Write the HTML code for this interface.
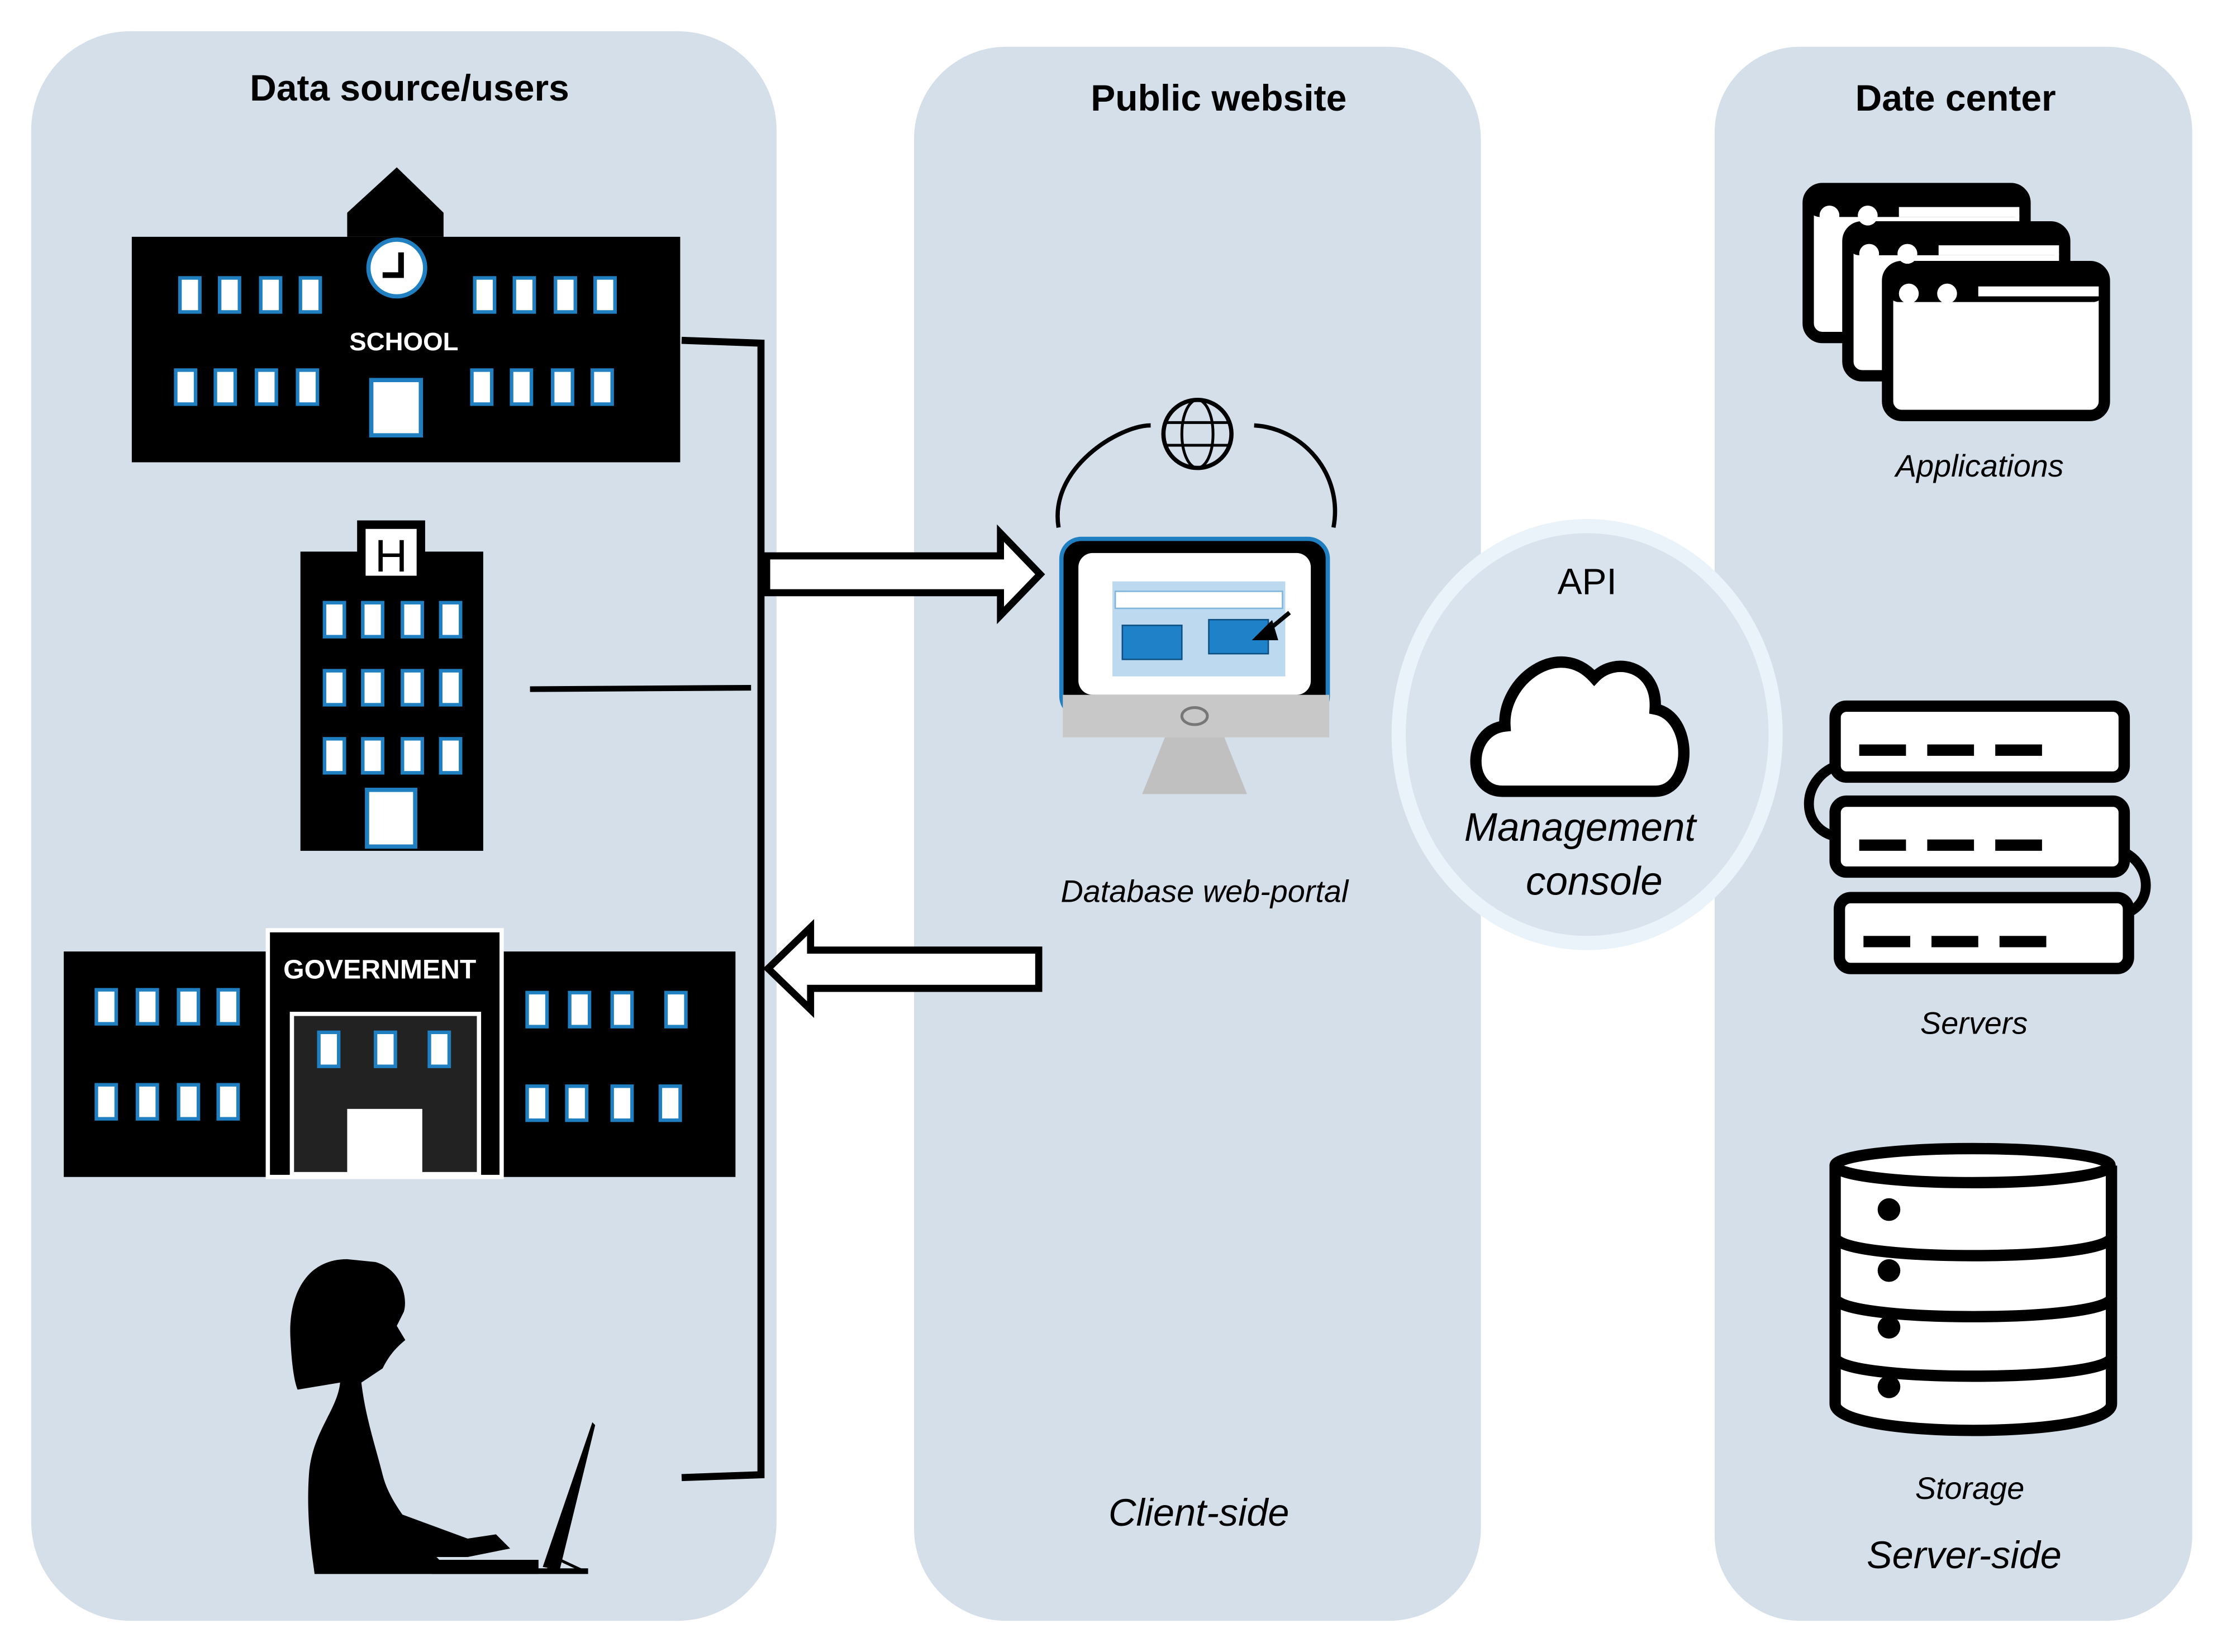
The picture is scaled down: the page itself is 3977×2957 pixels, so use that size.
<!DOCTYPE html>
<html><head><meta charset="utf-8">
<style>
html,body{margin:0;padding:0;background:#fff;}
svg{display:block;}
text{font-family:"Liberation Sans","DejaVu Sans",sans-serif;}
</style></head>
<body>
<svg width="3977" height="2957" viewBox="0 0 1568 1165" preserveAspectRatio="none" xmlns="http://www.w3.org/2000/svg">
<defs>
<g id="w"><rect x="0" y="0" width="14" height="24" fill="#fff" stroke="#1f7fc0" stroke-width="2.5"/></g>
</defs>
<rect width="1568" height="1165" fill="#fff"/>
<!-- panels -->
<rect x="22" y="22" width="526" height="1121" rx="70" fill="#d5dfea"/>
<rect x="645" y="33" width="400" height="1110" rx="65" fill="#d5dfea"/>
<rect x="1210" y="33" width="337" height="1110" rx="60" fill="#d5dfea"/>
<text x="289" y="71" font-size="26" font-weight="bold" text-anchor="middle">Data source/users</text>
<text x="860" y="78" font-size="26" font-weight="bold" text-anchor="middle">Public website</text>
<text x="1380" y="78" font-size="26" font-weight="bold" text-anchor="middle">Date center</text>

<!-- school -->
<polygon points="245,167 245,150 280,118 313,150 313,167" fill="#000"/>
<rect x="93" y="167" width="387" height="159" fill="#000"/>
<circle cx="280" cy="189" r="20" fill="#fff" stroke="#1f7fc0" stroke-width="3"/>
<path d="M283,178 L283,194 L270,194" stroke="#000" stroke-width="4" fill="none"/>
<g>
<use href="#w" x="127" y="196"/><use href="#w" x="155" y="196"/><use href="#w" x="184" y="196"/><use href="#w" x="212" y="196"/>
<use href="#w" x="335" y="196"/><use href="#w" x="363" y="196"/><use href="#w" x="392" y="196"/><use href="#w" x="420" y="196"/>
<use href="#w" x="124" y="261"/><use href="#w" x="152" y="261"/><use href="#w" x="181" y="261"/><use href="#w" x="210" y="261"/>
<use href="#w" x="333" y="261"/><use href="#w" x="361" y="261"/><use href="#w" x="390" y="261"/><use href="#w" x="418" y="261"/>
</g>
<rect x="262" y="268" width="35" height="39" fill="#fff" stroke="#1f7fc0" stroke-width="3"/>
<text x="285" y="247" font-size="18" font-weight="bold" fill="#fff" text-anchor="middle">SCHOOL</text>

<!-- hospital -->
<rect x="212" y="389" width="129" height="211" fill="#000"/>
<rect x="252" y="367" width="48" height="44" fill="#000"/>
<rect x="258" y="373" width="36" height="33" fill="#fff"/>
<text x="276" y="403" font-size="32" text-anchor="middle" fill="#000">H</text>
<use href="#w" x="229" y="425"/><use href="#w" x="256" y="425"/><use href="#w" x="284" y="425"/><use href="#w" x="311" y="425"/>
<use href="#w" x="229" y="473"/><use href="#w" x="256" y="473"/><use href="#w" x="284" y="473"/><use href="#w" x="311" y="473"/>
<use href="#w" x="229" y="521"/><use href="#w" x="256" y="521"/><use href="#w" x="284" y="521"/><use href="#w" x="311" y="521"/>
<rect x="259" y="557" width="34" height="40" fill="#fff" stroke="#1f7fc0" stroke-width="3"/>

<!-- government -->
<rect x="45" y="671" width="143" height="159" fill="#000"/>
<rect x="355" y="671" width="164" height="159" fill="#000"/>
<rect x="189" y="656" width="165" height="174" fill="#000" stroke="#fff" stroke-width="3"/>
<text x="268" y="690" font-size="19" font-weight="bold" fill="#fff" text-anchor="middle">GOVERNMENT</text>
<rect x="206" y="715" width="132" height="113" fill="#222" stroke="#fff" stroke-width="3"/>
<use href="#w" x="225" y="728"/><use href="#w" x="265" y="728"/><use href="#w" x="303" y="728"/>
<rect x="245" y="782" width="53" height="46" fill="#fff"/>
<use href="#w" x="68" y="698"/><use href="#w" x="97" y="698"/><use href="#w" x="126" y="698"/><use href="#w" x="154" y="698"/>
<use href="#w" x="68" y="765"/><use href="#w" x="97" y="765"/><use href="#w" x="126" y="765"/><use href="#w" x="154" y="765"/>
<use href="#w" x="372" y="700"/><use href="#w" x="402" y="700"/><use href="#w" x="432" y="700"/><use href="#w" x="470" y="700"/>
<use href="#w" x="372" y="766"/><use href="#w" x="400" y="766"/><use href="#w" x="432" y="766"/><use href="#w" x="466" y="766"/>

<!-- woman -->
<path d="M245,888 C215,888 203,915 205,945 C206,965 208,975 210,980 L240,975 C238,995 220,1010 218,1040 C216,1070 220,1095 222,1110 L380,1110 L380,1100 L310,1100 L300,1090 C290,1075 275,1060 270,1040 C265,1020 258,1000 255,975 L270,965 C275,955 280,950 286,945 L280,935 L285,925 C288,915 283,895 265,890 Z" fill="#000"/>
<path d="M262,1060 L330,1085 L350,1082 L360,1092 L330,1098 L300,1098 Z" fill="#000"/>
<path d="M418,1003 L383,1105 L395,1107 L420,1005 Z" fill="#000"/>
<path d="M395,1100 L412,1108 L385,1108 Z" fill="none" stroke="#000" stroke-width="2"/>
<line x1="305" y1="1108" x2="415" y2="1108" stroke="#000" stroke-width="4"/>

<!-- bracket -->
<path d="M481,240 L537,242 L537,1040 L481,1042" fill="none" stroke="#000" stroke-width="5"/>
<line x1="374" y1="486" x2="530" y2="485" stroke="#000" stroke-width="4"/>

<!-- arrows -->
<path d="M541,392 L706,392 L706,376 L734,405 L706,434 L706,418 L541,418 Z" fill="#fff" stroke="#000" stroke-width="5"/>
<path d="M733,670 L572,670 L572,654 L542,683 L572,712 L572,697 L733,697 Z" fill="#fff" stroke="#000" stroke-width="5"/>

<!-- monitor -->
<path d="M747,372 C740,330 790,300 812,300" fill="none" stroke="#000" stroke-width="3"/>
<path d="M885,300 C920,302 948,335 941,372" fill="none" stroke="#000" stroke-width="3"/>
<circle cx="845" cy="306" r="24" fill="none" stroke="#000" stroke-width="3"/>
<ellipse cx="845" cy="306" rx="11" ry="24" fill="none" stroke="#000" stroke-width="2"/>
<line x1="822" y1="298" x2="868" y2="298" stroke="#000" stroke-width="2"/>
<line x1="822" y1="314" x2="868" y2="314" stroke="#000" stroke-width="2"/>
<rect x="749" y="380" width="188" height="125" rx="14" fill="#000" stroke="#1f7fc0" stroke-width="3"/>
<rect x="761" y="390" width="164" height="100" rx="10" fill="#fff"/>
<rect x="785" y="410" width="122" height="67" fill="#bcd9ef"/>
<rect x="787" y="417" width="118" height="12" fill="#fff" stroke="#7fb5dd" stroke-width="1"/>
<rect x="792" y="441" width="42" height="24" fill="#1f82c8" stroke="#0c4f80" stroke-width="1"/>
<rect x="853" y="437" width="42" height="24" fill="#1f82c8" stroke="#0c4f80" stroke-width="1"/>
<path d="M910,432 L893,446 M887,450 L897,440 L900,450 Z" stroke="#000" stroke-width="3" fill="#000"/>
<rect x="750" y="490" width="188" height="30" fill="#c8c8c8"/>
<ellipse cx="843" cy="505" rx="9" ry="6" fill="none" stroke="#777" stroke-width="2"/>
<polygon points="822,520 864,520 880,560 806,560" fill="#c0c0c0"/>
<text x="850" y="636" font-size="22" font-style="italic" text-anchor="middle">Database web-portal</text>
<text x="846" y="1076" font-size="27" font-style="italic" text-anchor="middle">Client-side</text>

<!-- API -->
<ellipse cx="1120" cy="518" rx="133" ry="147" fill="#d9e3ed" stroke="#eaf2fa" stroke-width="10"/>
<text x="1120" y="419" font-size="26" text-anchor="middle">API</text>
<path d="M1060,558 C1035,558 1035,515 1062,512 C1060,480 1100,450 1125,478 C1140,462 1170,470 1168,500 C1195,505 1195,558 1168,558 Z" fill="#fff" stroke="#000" stroke-width="8"/>
<text x="1115" y="593" font-size="28" font-style="italic" text-anchor="middle">Management</text>
<text x="1125" y="631" font-size="28" font-style="italic" text-anchor="middle">console</text>

<!-- applications -->
<g fill="#fff" stroke="#000" stroke-width="8">
<rect x="1276" y="133" width="153" height="105" rx="10"/>
<rect x="1304" y="160" width="153" height="105" rx="10"/>
<rect x="1332" y="188" width="153" height="105" rx="10"/>
</g>
<rect x="1276" y="133" width="153" height="20" rx="8" fill="#000"/>
<rect x="1304" y="160" width="153" height="20" rx="8" fill="#000"/>
<rect x="1332" y="188" width="153" height="25" rx="8" fill="#000"/>
<g fill="#fff"><circle cx="1291" cy="152" r="7"/><circle cx="1318" cy="152" r="7"/><rect x="1340" y="146" width="85" height="7"/>
<circle cx="1319" cy="179" r="7"/><circle cx="1346" cy="179" r="7"/><rect x="1368" y="173" width="85" height="7"/>
<circle cx="1347" cy="207" r="7"/><circle cx="1374" cy="207" r="7"/><rect x="1396" y="202" width="85" height="7"/></g>
<text x="1397" y="336" font-size="22" font-style="italic" text-anchor="middle">Applications</text>

<!-- servers -->
<path d="M1296,540 C1270,550 1270,585 1296,590" fill="none" stroke="#000" stroke-width="7"/>
<path d="M1497,600 C1520,610 1520,640 1497,645" fill="none" stroke="#000" stroke-width="7"/>
<g fill="#fff" stroke="#000" stroke-width="8">
<rect x="1295" y="498" width="204" height="50" rx="8"/>
<rect x="1295" y="565" width="204" height="50" rx="8"/>
<rect x="1298" y="633" width="204" height="50" rx="8"/>
</g>
<g stroke="#000" stroke-width="8">
<line x1="1312" y1="529" x2="1345" y2="529"/><line x1="1360" y1="529" x2="1393" y2="529"/><line x1="1408" y1="529" x2="1441" y2="529"/>
<line x1="1312" y1="596" x2="1345" y2="596"/><line x1="1360" y1="596" x2="1393" y2="596"/><line x1="1408" y1="596" x2="1441" y2="596"/>
<line x1="1315" y1="664" x2="1348" y2="664"/><line x1="1363" y1="664" x2="1396" y2="664"/><line x1="1411" y1="664" x2="1444" y2="664"/>
</g>
<text x="1393" y="729" font-size="22" font-style="italic" text-anchor="middle">Servers</text>

<!-- storage -->
<path d="M1295,822 L1295,990 C1295,1015 1490,1015 1490,990 L1490,822" fill="#fff" stroke="#000" stroke-width="8"/>
<ellipse cx="1392" cy="822" rx="97" ry="12" fill="#fff" stroke="#000" stroke-width="8"/>
<g fill="none" stroke="#000" stroke-width="8">
<path d="M1295,872 C1295,890 1490,890 1490,872"/>
<path d="M1295,915 C1295,933 1490,933 1490,915"/>
<path d="M1295,957 C1295,975 1490,975 1490,957"/>
</g>
<g fill="#000"><circle cx="1333" cy="853" r="8"/><circle cx="1333" cy="896" r="8"/><circle cx="1333" cy="936" r="8"/><circle cx="1333" cy="978" r="8"/></g>
<text x="1390" y="1057" font-size="22" font-style="italic" text-anchor="middle">Storage</text>
<text x="1386" y="1106" font-size="27" font-style="italic" text-anchor="middle">Server-side</text>
</svg>
</body></html>
